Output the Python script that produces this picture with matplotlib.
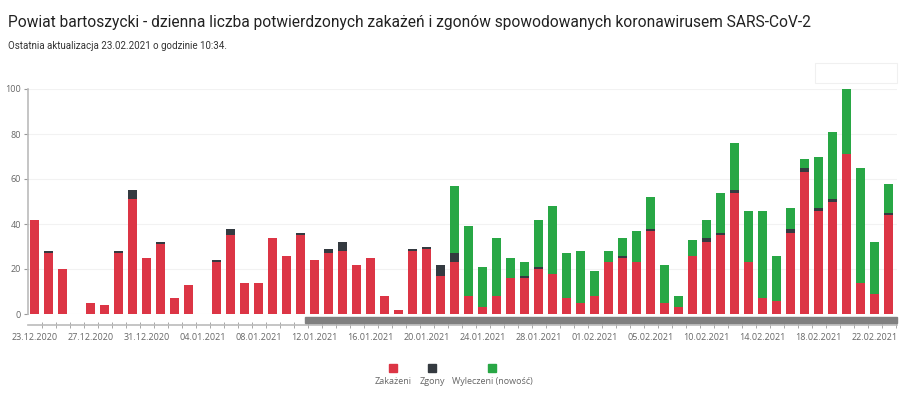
import numpy as np
import pandas as pd
import matplotlib
matplotlib.use("Agg")
import matplotlib.pyplot as plt
from matplotlib.patches import Rectangle

plt.rcParams['font.family'] = ['Open Sans', 'DejaVu Sans']

# dates (one day missing in the source data between 05.02 and 10.02)
dates = pd.date_range("2020-12-23", "2021-02-23").drop(pd.Timestamp("2021-02-08"))
labels = [d.strftime("%d.%m.%Y") for d in dates]

zakazeni = [42, 27, 20, 0, 5, 4, 27, 51, 25, 31, 7, 13, 0, 23, 35, 14, 14, 34, 26, 35,
            24, 27, 28, 22, 25, 8, 2, 28, 29, 17, 23, 8, 3, 8, 16, 16, 20, 18, 7, 5,
            8, 23, 25, 23, 37, 5, 3, 26, 32, 35, 54, 23, 7, 6, 36, 63, 46, 50, 71, 14,
            9, 44]
zgony = [0, 1, 0, 0, 0, 0, 1, 4, 0, 1, 0, 0, 0, 1, 3, 0, 0, 0, 0, 1,
         0, 2, 4, 0, 0, 0, 0, 1, 1, 5, 4, 0, 0, 0, 0, 1, 1, 0, 0, 0,
         0, 0, 1, 0, 1, 0, 0, 0, 2, 1, 1, 0, 0, 0, 2, 2, 1, 1, 0, 0,
         0, 1]
wyleczeni = [0, 0, 0, 0, 0, 0, 0, 0, 0, 0, 0, 0, 0, 0, 0, 0, 0, 0, 0, 0,
             0, 0, 0, 0, 0, 0, 0, 0, 0, 0, 30, 31, 18, 26, 9, 6, 21, 30, 20, 23,
             11, 5, 8, 14, 14, 17, 5, 7, 8, 18, 21, 23, 39, 20, 9, 4, 23, 30, 29, 51,
             23, 13]

series_names = ["Zakażeni", "Zgony", "Wyleczeni (nowość)"]
colors = ["#dc3545", "#343a40", "#28a745"]

title = "Powiat bartoszycki - dzienna liczba potwierdzonych zakażeń i zgonów spowodowanych koronawirusem SARS-CoV-2"
subtitle = "Ostatnia aktualizacja 23.02.2021 o godzinie 10:34."

fig = plt.figure(figsize=(9, 4), dpi=100)
fig.text(8 / 900, 1 - 22 / 400, title, fontsize=11.2, va="center", ha="left",
         color="#222222", family=["Roboto", "DejaVu Sans"])
fig.text(8 / 900, 1 - 46 / 400, subtitle, fontsize=7, va="center", ha="left",
         color="#333333", family=["Roboto", "DejaVu Sans"])

ax = fig.add_axes([28 / 900, 1 - 314 / 400, 869 / 900, 225 / 400])

x = np.arange(len(zakazeni))
z = np.array(zakazeni)
d = np.array(zgony)
w = np.array(wyleczeni)
width = 0.68
ax.bar(x, z, width, color=colors[0], zorder=3)
ax.bar(x, d, width, bottom=z, color=colors[1], zorder=3)
ax.bar(x, w, width, bottom=z + d, color=colors[2], zorder=3)

ax.set_xlim(-0.48, 61.6)
ax.set_ylim(0, 100)
ax.set_yticks([0, 20, 40, 60, 80, 100])
ax.grid(axis="y", color="#f2f2f2", linewidth=0.8, zorder=0)
ax.tick_params(axis="y", labelsize=6.5, labelcolor="#666666", color="#999999", length=3, pad=2)

for s in ["top", "right"]:
    ax.spines[s].set_visible(False)
ax.spines["left"].set_color("#bbbbbb")
ax.spines["left"].set_linewidth(1.2)
ax.spines["bottom"].set_position(("outward", 8))
ax.spines["bottom"].set_color("#bbbbbb")
ax.spines["bottom"].set_linewidth(1.2)

ax.set_xticks(x[::4])
ax.set_xticklabels(labels[::4])
ax.set_xticks(np.arange(len(x)) + 0.5, minor=True)
ax.tick_params(axis="x", which="major", length=0, labelsize=6.5, labelcolor="#666666", pad=6)
ax.tick_params(axis="x", which="minor", length=4, direction="inout", color="#999999")

# zoom slider under the bars
ax.add_patch(Rectangle((0.319, -0.042), 0.681, 0.03, transform=ax.transAxes,
                       clip_on=False, color="#808080", zorder=4))

# small empty button box top right
fig.add_artist(Rectangle((815 / 900, 1 - 83 / 400), 82 / 900, 20 / 400,
                         transform=fig.transFigure, fill=False, edgecolor="#f0f0f0", linewidth=0.8))

# legend: square above label
leg_x = [393, 432, 492]
for name, c, lx in zip(series_names, colors, leg_x):
    fig.add_artist(Rectangle(((lx - 4) / 900, 1 - 372 / 400), 8 / 900, 8 / 400,
                             transform=fig.transFigure, color=c))
    fig.text(lx / 900, 1 - 381 / 400, name, fontsize=6.5, color="#666666", ha="center", va="center")

fig.savefig("out.png", dpi=100, facecolor="white")
